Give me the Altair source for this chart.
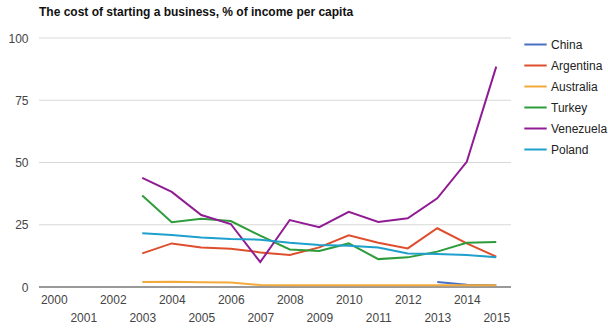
import altair as alt
import pandas as pd

years = list(range(2000, 2016))
countries = ["China", "Argentina", "Australia", "Turkey", "Venezuela", "Poland"]
colors = ["#4a70c2", "#df4e2c", "#f2aa3c", "#2f9c3c", "#8f1c92", "#1fa0cc"]

china = [None]*13 + [2.0, 0.9, 0.7]
argentina = [None]*3 + [13.5, 17.5, 15.9, 15.4, 13.9, 12.9, 15.9, 20.8, 17.8, 15.5, 23.6, 17.5, 12.2]
australia = [None]*3 + [2.0, 2.1, 1.9, 1.8, 0.8, 0.7, 0.7, 0.7, 0.7, 0.7, 0.7, 0.7, 0.7]
turkey = [None]*3 + [36.7, 26.0, 27.4, 26.5, 20.6, 15.1, 14.5, 17.5, 11.2, 11.9, 14.2, 17.8, 18.1]
venezuela = [None]*3 + [43.8, 38.2, 28.9, 25.3, 10.0, 26.9, 24.0, 30.2, 26.1, 27.6, 35.6, 50.3, 88.5]
poland = [None]*3 + [21.6, 20.9, 19.9, 19.3, 19.0, 17.8, 16.9, 16.6, 15.9, 13.5, 13.3, 12.9, 11.9]

series = dict(zip(countries, [china, argentina, australia, turkey, venezuela, poland]))
rows = []
for c, vals in series.items():
    for y, v in zip(years, vals):
        if v is not None:
            rows.append({"year": y, "country": c, "value": v})
df = pd.DataFrame(rows)

FONT = "Liberation Sans"

x_scale = alt.Scale(domain=years, type="point", padding=0.5)
y_scale = alt.Scale(domain=[0, 100])

grid = alt.Chart(pd.DataFrame({"v": [25, 50, 75, 100]})).mark_rule(
    color="#d9d9d9", strokeWidth=1
).encode(y=alt.Y("v:Q", scale=y_scale))

base = alt.Chart(pd.DataFrame({"v": [0]})).mark_rule(
    color="#999999", strokeWidth=2
).encode(y=alt.Y("v:Q", scale=y_scale))

lines = alt.Chart(df).mark_line(strokeWidth=2).encode(
    x=alt.X("year:O", scale=x_scale, title=None,
            axis=alt.Axis(labelAngle=0, domain=False, ticks=False, grid=False,
                          labelFont=FONT, labelFontSize=12,
                          labelColor="#444444", labelPadding=7, labelBaseline="top",
                          labelLineHeight=18,
                          labelExpr="toNumber(datum.value) % 2 == 1 ? ['', datum.label] : datum.label")),
    y=alt.Y("value:Q", scale=y_scale, title=None,
            axis=alt.Axis(values=[0, 25, 50, 75, 100], domain=False, ticks=False, grid=False,
                          labelFont=FONT, labelFontSize=12,
                          labelColor="#444444", labelPadding=11)),
    color=alt.Color("country:N", scale=alt.Scale(domain=countries, range=colors),
                    legend=alt.Legend(title=None, orient="none", legendX=484, legendY=-6,
                                      symbolType="stroke", symbolSize=500, symbolStrokeWidth=2,
                                      labelFont=FONT, labelFontSize=12,
                                      labelColor="#222222", rowPadding=2, labelOffset=3)),
)

chart = alt.layer(grid, base, lines).properties(
    width=472, height=249,
    title=alt.TitleParams("The cost of starting a business, % of income per capita",
                          anchor="start", frame="group", font=FONT,
                          fontSize=12, fontWeight="bold", color="#111111", offset=13),
    autosize=alt.AutoSizeParams(type="none"),
    padding={"left": 39, "top": 38, "right": 97, "bottom": 44},
).configure_view(stroke=None)

chart.save("out.html", embed_options={"renderer": "svg", "actions": False})
